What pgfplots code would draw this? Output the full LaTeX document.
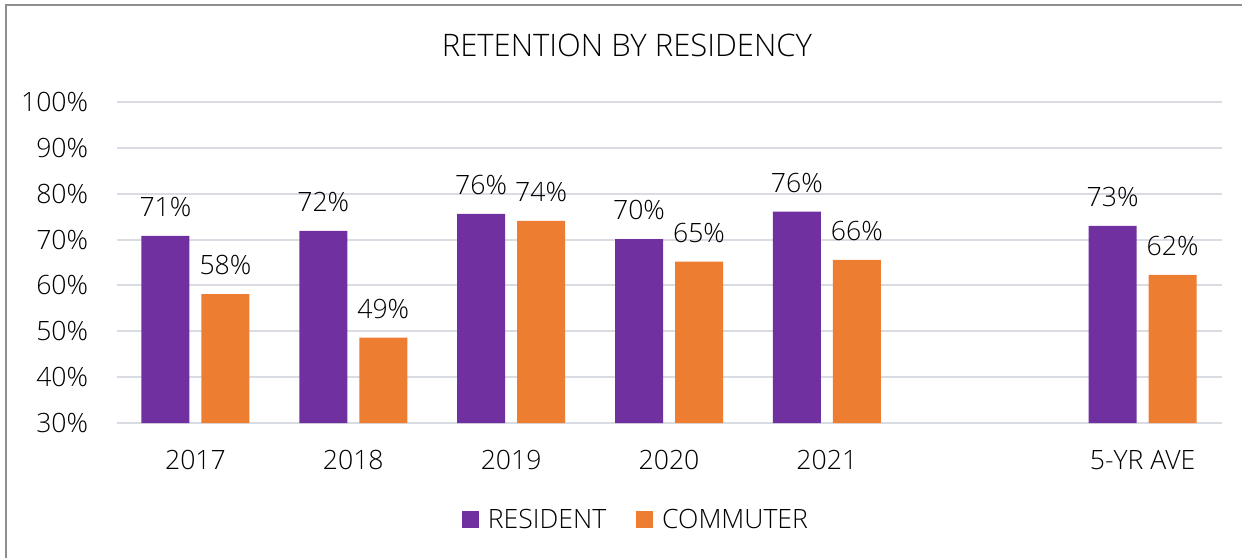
\documentclass[border=0pt]{standalone}
\usepackage{pgfplots}
\pgfplotsset{compat=1.18}
\usepackage{fontspec}
\setmainfont{Open Sans}[UprightFont={* Light}]
\definecolor{resid}{HTML}{7030A0}
\definecolor{commut}{HTML}{ED7D31}
\definecolor{gridc}{HTML}{D9DCE3}
\definecolor{framec}{HTML}{8F8F8F}

\begin{document}
\begin{tikzpicture}
\useasboundingbox (0,0) rectangle (621pt,279pt);
\draw[framec, line width=1pt] (3pt,0) -- (3pt,276.5pt) -- (621pt,276.5pt);
\node[anchor=base, font=\fontsize{15.5}{18}\selectfont] at (313.5pt,250.5pt) {RETENTION BY RESIDENCY};
\begin{axis}[
    at={(58.25pt,67.5pt)}, anchor=south west,
    scale only axis,
    width=552.5pt, height=160.5pt,
    ybar=6pt, bar width=24pt,
    xmin=-0.5, xmax=6.5,
    ymin=30, ymax=100,
    xtick={0,1,2,3,4,6},
    xticklabels={2017,2018,2019,2020,2021,5-YR AVE},
    ytick={30,40,50,60,70,80,90,100},
    yticklabel={\pgfmathprintnumber{\tick}\%},
    /pgf/number format/assume math mode=true,
    major tick length=0pt,
    ymajorgrids, grid style={gridc, line width=1pt},
    axis x line*=bottom, axis y line*=left,
    x axis line style={gridc, line width=1pt, -},
    y axis line style={draw=none},
    tick label style={font=\fontsize{13.3}{15}\selectfont, inner sep=0pt},
    xticklabel style={anchor=base, yshift=-23pt},
    yticklabel style={anchor=east, xshift=-14pt},
    nodes near coords={\pgfmathprintnumber[fixed, precision=0]{\pgfplotspointmeta}\%},
    nodes near coords style={font=\fontsize{13.3}{15}\selectfont, text=black, yshift=6pt},
    legend style={at={(0.471,-0.302)}, anchor=center, draw=none, fill=none,
        legend columns=2, font=\fontsize{13.3}{15}\selectfont,
        /tikz/every even column/.append style={column sep=13pt}},
    legend cell align=left,
    legend image code/.code={\fill[#1] (0.5pt,-4.25pt) rectangle (9pt,4.25pt); \path (11.5pt,0);},
]
\addplot[fill=resid, draw=none] coordinates {(0,70.8) (1,71.9) (2,75.6) (3,70.1) (4,76.1) (6,73.0)};
\addlegendentry{RESIDENT}
\addplot[fill=commut, draw=none] coordinates {(0,58.1) (1,48.6) (2,74.1) (3,65.2) (4,65.6) (6,62.3)};
\addlegendentry{COMMUTER}
\end{axis}
\end{tikzpicture}
\end{document}
